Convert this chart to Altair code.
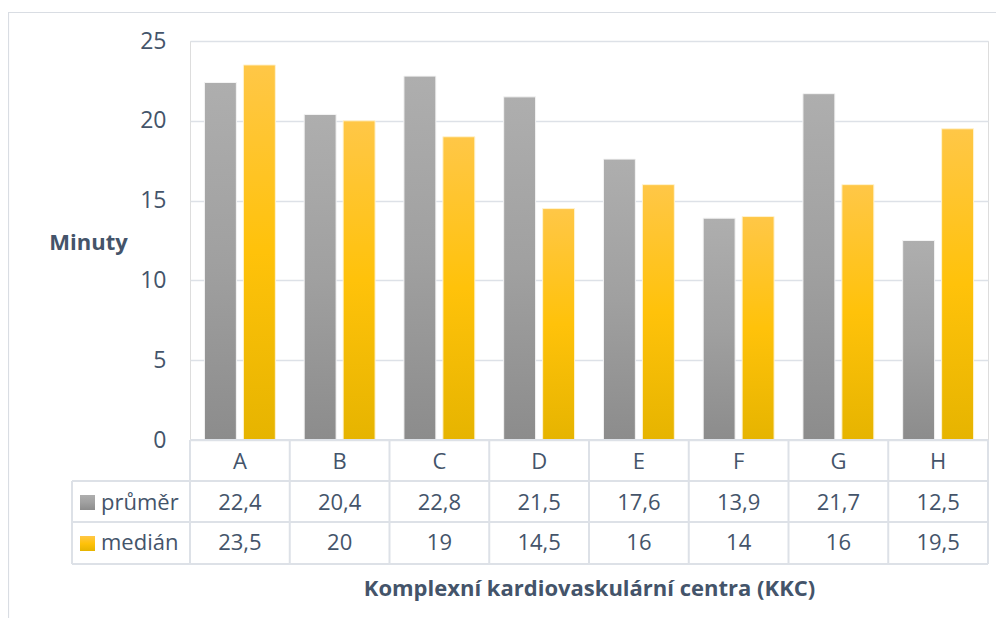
import altair as alt
import pandas as pd

categories = ["A", "B", "C", "D", "E", "F", "G", "H"]
prumer = [22.4, 20.4, 22.8, 21.5, 17.6, 13.9, 21.7, 12.5]
median = [23.5, 20, 19, 14.5, 16, 14, 16, 19.5]
series = ["průměr", "medián"]
y_ticks = [0, 5, 10, 15, 20, 25]

TXT = "#44546A"
LINE = "#dde1e7"
FONT = "Open Sans"
W, H = 798, 399
FS = 22


def fmt(v):
    return f"{v:g}".replace(".", ",")


rows = []
for i, c in enumerate(categories):
    rows.append({"cat": c, "series": series[0], "value": prumer[i], "label": fmt(prumer[i])})
    rows.append({"cat": c, "series": series[1], "value": median[i], "label": fmt(median[i])})
df = pd.DataFrame(rows)
cats_df = pd.DataFrame({"cat": categories})

gray_grad = alt.Gradient(
    gradient="linear",
    stops=[alt.GradientStop(color="#aeaeae", offset=0),
           alt.GradientStop(color="#a0a0a0", offset=0.5),
           alt.GradientStop(color="#8c8c8c", offset=1)],
    x1=1, x2=1, y1=0, y2=1)
gold_grad = alt.Gradient(
    gradient="linear",
    stops=[alt.GradientStop(color="#ffc747", offset=0),
           alt.GradientStop(color="#ffc20a", offset=0.5),
           alt.GradientStop(color="#e6b400", offset=1)],
    x1=1, x2=1, y1=0, y2=1)

xscale = alt.Scale(domain=categories, paddingInner=0, paddingOuter=0)
x_enc = alt.X("cat:N", scale=xscale,
              axis=alt.Axis(labels=False, ticks=False, domain=False,
                            title="Komplexní kardiovaskulární centra (KKC)",
                            titleY=148, titleBaseline="middle", titleFontSize=22,
                            titleFontWeight="bold", titleColor=TXT, titleFont=FONT))
xo_enc = alt.XOffset("series:N", scale=alt.Scale(domain=series, paddingInner=0.18, paddingOuter=0.37))
y_enc = alt.Y("value:Q", scale=alt.Scale(domain=[0, 25]),
              axis=alt.Axis(values=y_ticks, title="Minuty", titleAngle=0, titleX=-102, titleY=201,
                            titleAlign="center", titleBaseline="middle", titleFontWeight="bold",
                            titleFontSize=22, titleColor=TXT, titleFont=FONT,
                            labelFontSize=23, labelColor=TXT, labelFont=FONT, labelPadding=24,
                            grid=True, gridColor=LINE, gridWidth=1.5, domain=False, ticks=False))

base = alt.Chart(df)

bars_p = base.transform_filter(alt.datum.series == series[0]).mark_bar(
    color=gray_grad, stroke="#f4f4f4", strokeWidth=1).encode(x=x_enc, xOffset=xo_enc, y=y_enc)
bars_m = base.transform_filter(alt.datum.series == series[1]).mark_bar(
    color=gold_grad, stroke="#fff3d0", strokeWidth=1).encode(x=x_enc, xOffset=xo_enc, y=y_enc)

# data table
hdr = alt.Chart(cats_df).mark_text(fontSize=FS, color=TXT, font=FONT, baseline="middle").encode(
    x=alt.X("cat:N", scale=xscale, bandPosition=0.5), y=alt.value(421), text="cat:N")
row_p = base.transform_filter(alt.datum.series == series[0]).mark_text(
    fontSize=FS, color=TXT, font=FONT, baseline="middle").encode(
    x=alt.X("cat:N", scale=xscale, bandPosition=0.5), y=alt.value(462), text="label:N")
row_m = base.transform_filter(alt.datum.series == series[1]).mark_text(
    fontSize=FS, color=TXT, font=FONT, baseline="middle").encode(
    x=alt.X("cat:N", scale=xscale, bandPosition=0.5), y=alt.value(502), text="label:N")

vlines = alt.Chart(cats_df).mark_rule(color=LINE, strokeWidth=2).encode(
    x=alt.X("cat:N", scale=xscale, bandPosition=0), y=alt.value(399), y2=alt.value(523))
hl = pd.DataFrame({"x1": [0, -118, -118, -118], "x2": [W, W, W, W], "y": [399, 440, 481, 523]})
hlines = alt.Chart(hl).mark_rule(color=LINE, strokeWidth=2).encode(
    x=alt.X("x1:Q", scale=None), x2="x2:Q", y=alt.Y("y:Q", scale=None))
vl = pd.DataFrame({"x": [-118, W], "y1": [440, 399], "y2": [523, 523]})
vlines2 = alt.Chart(vl).mark_rule(color=LINE, strokeWidth=2).encode(
    x=alt.X("x:Q", scale=None), y=alt.Y("y1:Q", scale=None), y2="y2:Q")

sw_p = alt.Chart(pd.DataFrame({"s": [series[0]]})).mark_rect(color=gray_grad).encode(
    x=alt.value(-110), x2=alt.value(-95), y=alt.value(454), y2=alt.value(469))
sw_m = alt.Chart(pd.DataFrame({"s": [series[1]]})).mark_rect(color=gold_grad).encode(
    x=alt.value(-110), x2=alt.value(-95), y=alt.value(495), y2=alt.value(510))
leg = alt.Chart(pd.DataFrame({"s": series, "yy": [462, 502]})).mark_text(
    fontSize=FS, color=TXT, font=FONT, align="left", baseline="middle").encode(
    x=alt.value(-89), y=alt.Y("yy:Q", scale=None), text="s:N")

frame = alt.Chart(pd.DataFrame({"s": [1]})).mark_rect(
    fillOpacity=0, stroke="#d9dde3", strokeWidth=1.2).encode(
    x=alt.value(-181.5), x2=alt.value(1000), y=alt.value(-28.5), y2=alt.value(800))

chart = alt.layer(
    frame, bars_p, bars_m, hlines, vlines, vlines2, hdr, row_p, row_m, sw_p, sw_m, leg
).resolve_scale(x="shared").properties(
    width=W, height=H,
    autosize=alt.AutoSizeParams(type="none"),
    padding={"left": 182, "top": 33, "right": 8, "bottom": 178},
).configure_view(stroke=None).configure(font=FONT)

chart.save("out.html", embed_options={"renderer": "svg", "actions": False})
